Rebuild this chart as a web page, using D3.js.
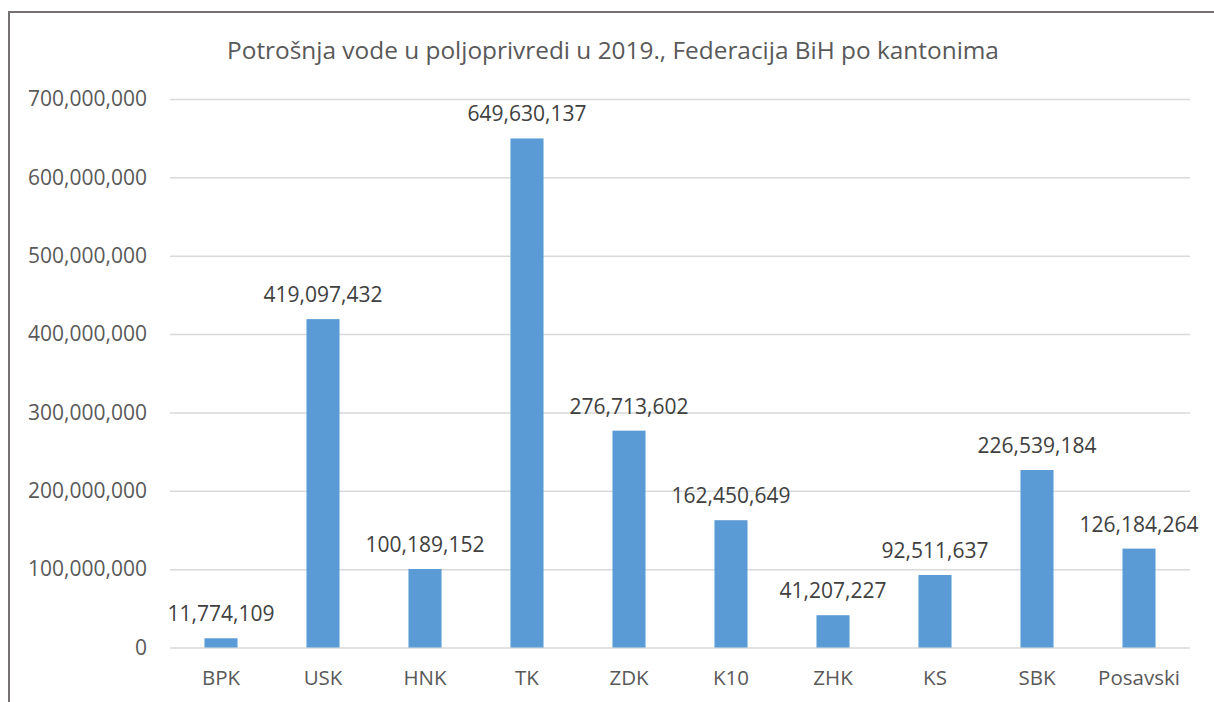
<!DOCTYPE html>
<html><head><meta charset="utf-8">
<script src="https://cdn.jsdelivr.net/npm/d3@7"></script>
<style>body{margin:0;background:#fff;}svg{display:block;font-family:"Open Sans",sans-serif;}</style>
</head><body>
<svg id="chart" width="1214" height="702"></svg>
<script>
const title = "Potrošnja vode u poljoprivredi u 2019., Federacija BiH po kantonima";
const categories = ["BPK","USK","HNK","TK","ZDK","K10","ZHK","KS","SBK","Posavski"];
const values = [11774109,419097432,100189152,649630137,276713602,162450649,41207227,92511637,226539184,126184264];
const yTicks = [0,100000000,200000000,300000000,400000000,500000000,600000000,700000000];

(function(){
const svg = d3.select("#chart");
const W = 1214, H = 702;
const mLeft = 170, mRight = 1190, mTop = 99, mBottom = 647.5;
const fmt = d3.format(",");
const textColor = "#595959";

// chart border (left and top visible)
svg.append("path").attr("d", `M9,${H} L9,12 L${W},12`).attr("fill","none").attr("stroke","#767171").attr("stroke-width",2);

svg.append("text").attr("x", 613).attr("y", 59).attr("text-anchor","middle")
  .attr("font-size", 24.4).attr("fill", textColor).text(title);

const x = d3.scaleBand().domain(categories).range([mLeft, mRight]).paddingInner(0.676).paddingOuter(0.338);
const y = d3.scaleLinear().domain([0, 700000000]).range([mBottom, mTop]);

const yAxis = svg.append("g").attr("transform", `translate(${mLeft},0)`)
  .call(d3.axisLeft(y).tickValues(yTicks).tickFormat(fmt).tickSize(-(mRight-mLeft)).tickPadding(23));
yAxis.select(".domain").remove();
yAxis.selectAll(".tick line").attr("stroke","#d9d9d9").attr("stroke-width",1.5);
yAxis.selectAll(".tick text").attr("fill", textColor).attr("font-size", 21).attr("font-family","Open Sans");

const xAxis = svg.append("g").attr("transform", `translate(0,${mBottom})`)
  .call(d3.axisBottom(x).tickSize(0).tickPadding(23));
xAxis.select(".domain").remove();
xAxis.selectAll(".tick text").attr("fill", textColor).attr("font-size", 20.5).attr("font-family","Open Sans");

svg.append("g").selectAll("rect").data(categories).join("rect")
  .attr("x", d => x(d)).attr("width", x.bandwidth())
  .attr("y", (d,i) => y(values[i])).attr("height", (d,i) => mBottom - y(values[i]))
  .attr("fill", "#5b9bd5");

svg.append("g").selectAll("text").data(categories).join("text")
  .attr("x", d => x(d) + x.bandwidth()/2).attr("y", (d,i) => y(values[i]) - 17)
  .attr("text-anchor","middle").attr("font-size", 21).attr("fill", "#404040")
  .text((d,i) => fmt(values[i]));
})();
</script>
</body></html>
